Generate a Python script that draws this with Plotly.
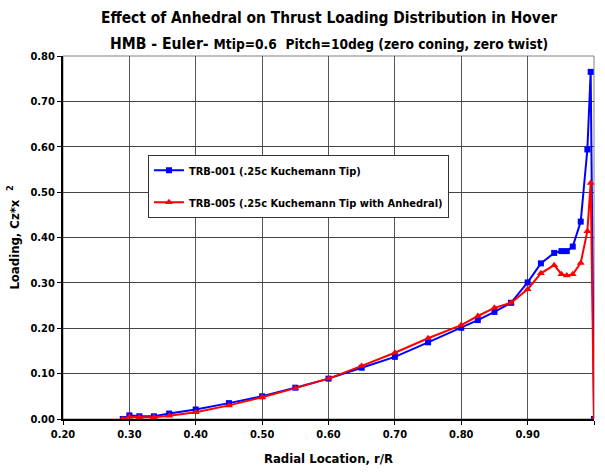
import plotly.graph_objects as go

r_blue = [0.29, 0.30, 0.315, 0.337, 0.36, 0.40, 0.45, 0.50, 0.55, 0.60, 0.65, 0.70, 0.75,
          0.80, 0.825, 0.85, 0.875, 0.90, 0.92, 0.94, 0.951, 0.959, 0.968, 0.98, 0.99, 0.995, 1.00]
load_blue = [0.000, 0.008, 0.006, 0.006, 0.012, 0.021, 0.035, 0.050, 0.069, 0.089, 0.113, 0.137, 0.169,
             0.201, 0.218, 0.236, 0.256, 0.301, 0.343, 0.366, 0.370, 0.370, 0.380, 0.435, 0.594, 0.765, 0.000]

r_red = r_blue
load_red = [0.000, 0.005, 0.004, 0.004, 0.007, 0.015, 0.030, 0.048, 0.068, 0.089, 0.117, 0.146, 0.178,
            0.207, 0.227, 0.245, 0.256, 0.286, 0.321, 0.339, 0.319, 0.316, 0.319, 0.344, 0.414, 0.520, 0.000]

name_blue = "TRB-001 (.25c Kuchemann Tip)"
name_red = "TRB-005 (.25c Kuchemann Tip with Anhedral)"

title1 = "Effect of Anhedral on Thrust Loading Distribution in Hover"
title2a = "HMB - Euler- "
title2b = "Mtip=0.6  Pitch=10deg (zero coning, zero twist)"

FONT = "DejaVu Sans Condensed"

fig = go.Figure()
fig.add_trace(go.Scatter(x=r_blue, y=load_blue, mode="lines+markers", name="<b>" + name_blue + "</b>",
                         legendgroup="g1",
                         line=dict(color="#0000FF", width=2),
                         marker=dict(symbol="square", size=6, color="#0000FF")))
fig.add_trace(go.Scatter(x=r_red, y=load_red, mode="lines+markers", name="<b>" + name_red + "</b>",
                         legendgroup="g2",
                         line=dict(color="#FF0000", width=2),
                         marker=dict(symbol="triangle-up", size=7, color="#FF0000")))

fig.update_layout(
    width=605, height=475,
    margin=dict(l=63, r=11, t=56, b=56),
    paper_bgcolor="white", plot_bgcolor="white",
    font=dict(family=FONT, size=11, color="black"),
    showlegend=True,
    legend=dict(x=0.16, y=0.728, xanchor="left", yanchor="top",
                bgcolor="white", bordercolor="#333333", borderwidth=1,
                font=dict(family=FONT, size=11, color="black"),
                tracegroupgap=13, itemwidth=30),
    xaxis=dict(range=[0.2, 1.0], dtick=0.1, tick0=0.2, tickformat=".2f",
               showgrid=True, gridcolor="#555555", gridwidth=1,
               showline=True, linecolor="black", linewidth=2,
               ticks="outside", ticklen=4, tickcolor="black",
               tickprefix="<b>", ticksuffix="</b>",
               tickfont=dict(family=FONT, size=11, color="black"),
               title=dict(text="<b>Radial Location, r/R</b>", font=dict(family=FONT, size=13), standoff=14),
               zeroline=False),
    yaxis=dict(range=[0, 0.8], dtick=0.1, tickformat=".2f",
               showgrid=True, gridcolor="#444444", gridwidth=1,
               showline=True, linecolor="black", linewidth=2,
               ticks="outside", ticklen=4, tickcolor="black",
               tickprefix="<b>", ticksuffix="</b>",
               tickfont=dict(family=FONT, size=11, color="black"),
               title=dict(text="<b>Loading, Cz*x<sup>   2</sup></b>", font=dict(family=FONT, size=13), standoff=8),
               zeroline=False),
)

fig.add_annotation(text="<b>" + title1 + "</b>", xref="paper", yref="paper",
                   x=0.5, y=1.1047, xanchor="center", yanchor="middle", showarrow=False,
                   font=dict(family=FONT, size=15.4, color="black"))
fig.add_annotation(text="<b>" + title2a + "<span style='font-size:13.7px'>" + title2b + "</span></b>",
                   xref="paper", yref="paper",
                   x=0.5, y=1.033, xanchor="center", yanchor="middle", showarrow=False,
                   font=dict(family=FONT, size=15.6, color="black"))

# plot area border (top/right)
fig.add_shape(type="rect", xref="paper", yref="paper", x0=0, y0=0, x1=1, y1=1,
              line=dict(color="#808080", width=1), layer="below")

fig.write_html("out.html")
